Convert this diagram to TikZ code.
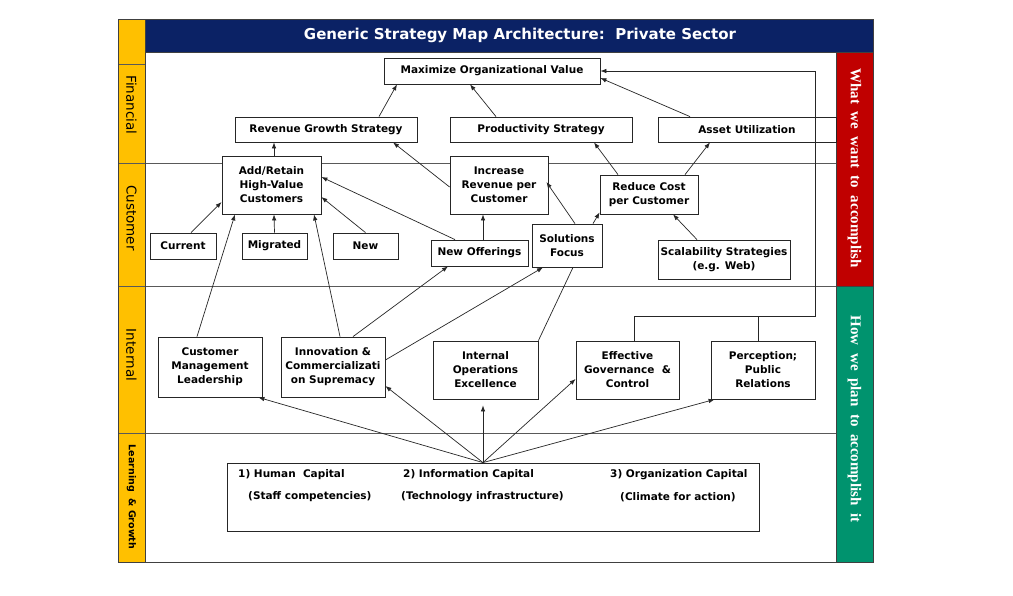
\documentclass[tikz,border=0pt]{standalone}
\usepackage{fontspec}
\setmainfont{DejaVu Sans}
\newfontfamily\serifb{Liberation Serif}
\usetikzlibrary{arrows.meta}
\definecolor{navyband}{HTML}{0B2265}
\definecolor{yellowband}{HTML}{FFC000}
\definecolor{redband}{HTML}{C00000}
\definecolor{greenband}{HTML}{00936E}
\definecolor{edgecol}{HTML}{404040}
\begin{document}
\begin{tikzpicture}[x=1pt,y=-1pt,
  box/.style={draw=black!85, line width=0.8pt, fill=white, inner sep=0pt, align=center,
    font=\bfseries\fontsize{10.5}{14}\selectfont},
  conn/.style={draw=black!85, line width=0.7pt, -{Latex[length=6pt,width=4.5pt]}},
  plainline/.style={draw=black!85, line width=0.7pt},
  rowline/.style={draw=black!65, line width=0.8pt},
  sidelabel/.style={rotate=-90, font=\fontsize{13.5}{16}\selectfont},
  bandlabel/.style={rotate=-90, text=white, font=\serifb\bfseries\fontsize{15}{18}\selectfont},
  lgtext/.style={anchor=west, inner sep=0pt, font=\bfseries\fontsize{10.5}{13}\selectfont}]
\useasboundingbox (0,0) rectangle (1013,595);
\fill[white] (0,0) rectangle (1013,595);
% bands
\fill[yellowband] (118,19) rectangle (145,562);
\fill[navyband] (145,19) rectangle (873,52);
\fill[redband] (836,52) rectangle (873,286);
\fill[greenband] (836,286) rectangle (873,562);
\draw[rowline] (118,64) -- (145,64);
\draw[rowline] (118,163) -- (836,163);
\draw[rowline] (118,286) -- (836,286);
\draw[rowline] (118,433) -- (836,433);
\draw[edgecol, line width=0.8pt] (145,19) -- (145,562);
\draw[edgecol, line width=0.8pt] (145,52) -- (873,52);
\draw[edgecol, line width=0.8pt] (836,52) -- (836,562);
\draw[edgecol, line width=0.8pt] (836,286) -- (873,286);
\draw[edgecol, line width=0.9pt] (118,19) rectangle (873,562);
% band labels
\node[text=white, font=\bfseries\fontsize{15}{18}\selectfont] (title) at (520,35.5) {Generic Strategy Map Architecture:\ \ Private Sector};
\node[sidelabel] (lfin) at (131.5,105) {Financial};
\node[sidelabel] (lcus) at (131.5,218) {Customer};
\node[sidelabel] (lint) at (131.5,355) {Internal};
\node[sidelabel, font=\bfseries\fontsize{9.5}{12}\selectfont] (llg) at (131.5,497) {Learning\ \ \&\ Growth};
\node[bandlabel] (lwhat) at (854.5,168) {What\ \ we\ \ want\ \ to\ \ accomplish};
\node[bandlabel] (lhow) at (854.5,419) {How\ \ we\ \ plan\ \ to\ \ accomplish\ \ it};
% Financial
\node[box, minimum width=216pt, minimum height=26pt] (max) at (492,71) {Maximize Organizational Value};
\node[box, minimum width=182pt, minimum height=25pt] (rev) at (326,129.5) {Revenue Growth Strategy};
\node[box, minimum width=182pt, minimum height=25pt] (prod) at (541,129.5) {Productivity Strategy};
\node[box, minimum width=178pt, minimum height=25pt] (asset) at (747,129.5) {Asset Utilization};
% Customer
\node[box, minimum width=99pt, minimum height=58pt] (add) at (271.5,185) {Add/Retain\\High-Value\\Customers};
\node[box, minimum width=98pt, minimum height=58pt] (inc) at (499,185) {Increase\\Revenue per\\Customer};
\node[box, minimum width=98pt, minimum height=39pt] (red) at (649,194.5) {Reduce Cost\\per Customer};
\node[box, minimum width=66pt, minimum height=26pt] (cur) at (183,246) {Current};
\node[box, minimum width=65pt, minimum height=26pt] (mig) at (274.5,246) {Migrated};
\node[box, minimum width=65pt, minimum height=26pt] (new) at (365.5,246) {New};
\node[box, minimum width=97pt, minimum height=26pt] (nof) at (479.5,253) {New Offerings};
\node[box, minimum width=70pt, minimum height=43pt] (sol) at (567,245.5) {Solutions\\Focus};
\node[box, minimum width=132pt, minimum height=39pt] (scal) at (724,259.5) {Scalability Strategies\\(e.g. Web)};
% Internal
\node[box, minimum width=104pt, minimum height=60pt] (cml) at (210,367) {Customer\\Management\\Leadership};
\node[box, minimum width=104pt, minimum height=60pt] (inn) at (333,367) {Innovation \&\\Commercializati\\on Supremacy};
\node[box, minimum width=105pt, minimum height=58pt] (iox) at (485.5,370) {Internal\\Operations\\Excellence};
\node[box, minimum width=103pt, minimum height=58pt] (egc) at (627.5,370) {Effective\\Governance\ \ \&\\Control};
\node[box, minimum width=104pt, minimum height=58pt] (per) at (763,370) {Perception;\\Public\\Relations};
% Learning & Growth
\node[box, minimum width=532pt, minimum height=68pt] (lg) at (493,497) {};
\node[lgtext] (hc) at (238,475) {1)\ Human\ \ Capital};
\node[lgtext] (sc) at (248,497) {(Staff competencies)};
\node[lgtext] (ic) at (403,475) {2)\ Information Capital};
\node[lgtext] (ti) at (401,497) {(Technology infrastructure)};
\node[lgtext] (oc) at (610,475) {3)\ Organization Capital};
\node[lgtext] (ca) at (620,497) {(Climate for action)};
% connectors
\coordinate (jr) at (815,316);
\coordinate (jt) at (815,71);
\draw[conn] ([xshift=53pt]rev.north) -- ([xshift=-95pt]max.south);
\draw[conn] ([xshift=-45pt]prod.north) -- ([xshift=-22pt]max.south);
\draw[conn] ([xshift=-57pt]asset.north) -- ([yshift=-7pt]max.east);
\draw[conn] ([xshift=6.5pt]egc.north) |- (jr) -- (jt) -- (max.east);
\draw[plainline] ([xshift=-5pt]per.north) |- (jr);
\draw[conn] ([xshift=2.5pt]add.north) -- ([xshift=-52pt]rev.south);
\draw[conn] ([yshift=-2pt]inc.west) -- ([xshift=67pt]rev.south);
\draw[conn] ([xshift=8pt]cur.north) -- ([yshift=-17pt]add.west);
\draw[conn] (mig.north) -- ([xshift=2.5pt]add.south);
\draw[conn] (new.north) -- ([yshift=-12pt]add.east);
\draw[conn] ([xshift=-24.5pt]nof.north) -- ([yshift=8pt]add.east);
\draw[conn] ([xshift=3.5pt]nof.north) -- ([xshift=-16pt]inc.south);
\draw[conn] ([xshift=8pt]sol.north) -- ([xshift=-2pt,yshift=3pt]inc.east);
\draw[conn] ([xshift=26pt]sol.north) -- ([yshift=2pt]red.south west);
\draw[conn] ([xshift=-31pt]red.north) -- ([xshift=53pt]prod.south);
\draw[conn] ([xshift=36pt]red.north) -- ([xshift=-37pt]asset.south);
\draw[conn] ([xshift=-27pt]scal.north) -- ([xshift=24pt]red.south);
\draw[conn] ([xshift=-13pt]cml.north) -- ([xshift=-36.5pt]add.south);
\draw[conn] ([xshift=7pt]inn.north) -- ([xshift=42.5pt]add.south);
\draw[conn] ([xshift=20pt]inn.north) -- ([xshift=-31.5pt]nof.south);
\draw[conn] ([yshift=7pt]inn.east) -- ([xshift=-24pt]sol.south);
\draw[plainline] (iox.north east) -- ([xshift=6pt]sol.south);
\draw[conn] ([xshift=-10pt]lg.north) -- ([xshift=-4pt]cml.south east);
\draw[conn] ([xshift=-10pt]lg.north) -- ([yshift=-19pt]inn.east);
\draw[conn] ([xshift=-10pt]lg.north) -- ([xshift=-2.5pt,yshift=-6pt]iox.south);
\draw[conn] ([xshift=-10pt]lg.north) -- ([yshift=-9pt]egc.west);
\draw[conn] ([xshift=-10pt]lg.north) -- ([xshift=4pt]per.south west);
\end{tikzpicture}
\end{document}
